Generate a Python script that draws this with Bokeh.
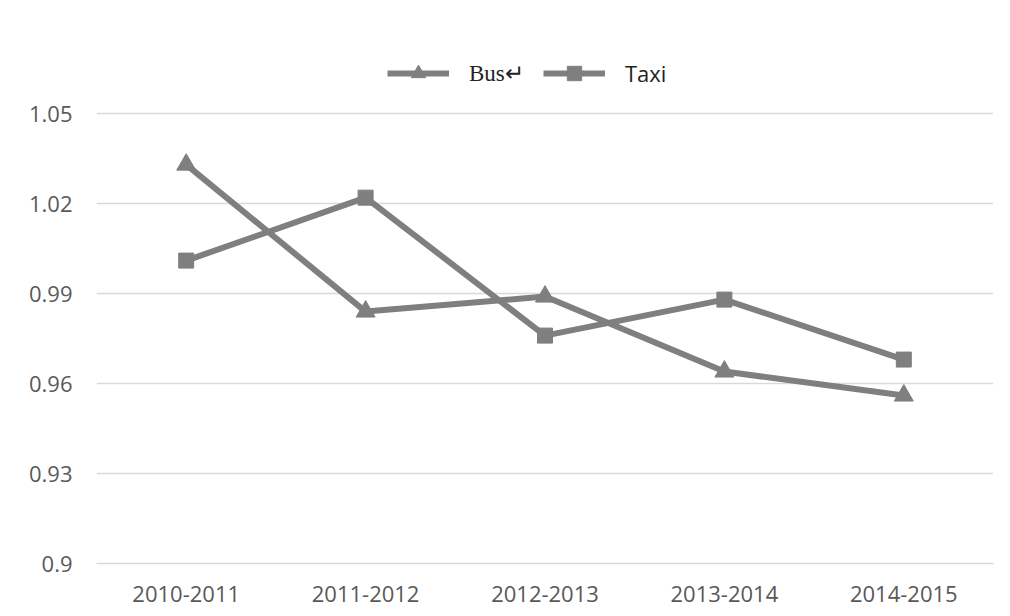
from bokeh.plotting import figure
from bokeh.models import FactorRange, Range1d, FixedTicker, Legend, LegendItem
from bokeh.embed import file_html
from bokeh.resources import INLINE

categories = ["2010-2011", "2011-2012", "2012-2013", "2013-2014", "2014-2015"]
bus = [1.033, 0.984, 0.989, 0.964, 0.956]
taxi = [1.001, 1.022, 0.976, 0.988, 0.968]
y_ticks = [0.9, 0.93, 0.96, 0.99, 1.02, 1.05]
y_tick_labels = ["0.9", "0.93", "0.96", "0.99", "1.02", "1.05"]
series_names = ["Bus\u21b5", "Taxi"]

GRAY = "#7f7f7f"
LABEL = "#595959"

# frame extends above the top gridline so the legend can sit inside it
p = figure(width=1010, height=616, x_range=FactorRange(*categories),
           y_range=Range1d(0.9, 1.0834), output_backend="svg", toolbar_location=None,
           min_border_left=96, min_border_right=17, min_border_top=13, min_border_bottom=53)
p.outline_line_color = None
p.background_fill_color = "white"
p.border_fill_color = "white"

p.xgrid.grid_line_color = None
p.ygrid.grid_line_color = "#d9d9d9"
p.ygrid.grid_line_width = 1.5
p.yaxis.ticker = FixedTicker(ticks=y_ticks)
p.yaxis.major_label_overrides = {t: l for t, l in zip(y_ticks, y_tick_labels)}
for ax in (p.xaxis[0], p.yaxis[0]):
    ax.axis_line_color = None
    ax.major_tick_line_color = None
    ax.minor_tick_line_color = None
    ax.major_tick_out = 0
    ax.major_tick_in = 0
    ax.major_label_text_color = LABEL
    ax.major_label_text_font = "Open Sans"
    ax.major_label_text_font_size = "22px"
p.xaxis.axis_line_color = "#d9d9d9"
p.xaxis.axis_line_width = 1.5
p.yaxis.major_label_standoff = 24
p.xaxis.major_label_standoff = 22

r_bus_l = p.line(categories, bus, line_color=GRAY, line_width=6)
r_bus_m = p.scatter(categories, bus, marker="triangle", size=19, fill_color=GRAY, line_color=GRAY)
r_taxi_l = p.line(categories, taxi, line_color=GRAY, line_width=6)
r_taxi_m = p.scatter(categories, taxi, marker="square", size=15, fill_color=GRAY, line_color=GRAY)

leg_bus = Legend(items=[LegendItem(label=series_names[0], renderers=[r_bus_l, r_bus_m])],
                 location=(291, 472), label_text_font="Liberation Serif",
                 label_text_font_size="23px", label_text_color="#222222")
leg_taxi = Legend(items=[LegendItem(label=series_names[1], renderers=[r_taxi_l, r_taxi_m])],
                  location=(447, 472), label_text_font="Open Sans",
                  label_text_font_size="22px", label_text_color="#222222")
for lg in (leg_bus, leg_taxi):
    lg.glyph_width = 62
    lg.glyph_height = 36
    lg.label_height = 36
    lg.label_standoff = 20
    lg.padding = 0
    lg.margin = 0
    lg.border_line_color = None
    lg.background_fill_alpha = 0
    p.add_layout(lg, "center")

open("out.html", "w").write(file_html(p, INLINE))
